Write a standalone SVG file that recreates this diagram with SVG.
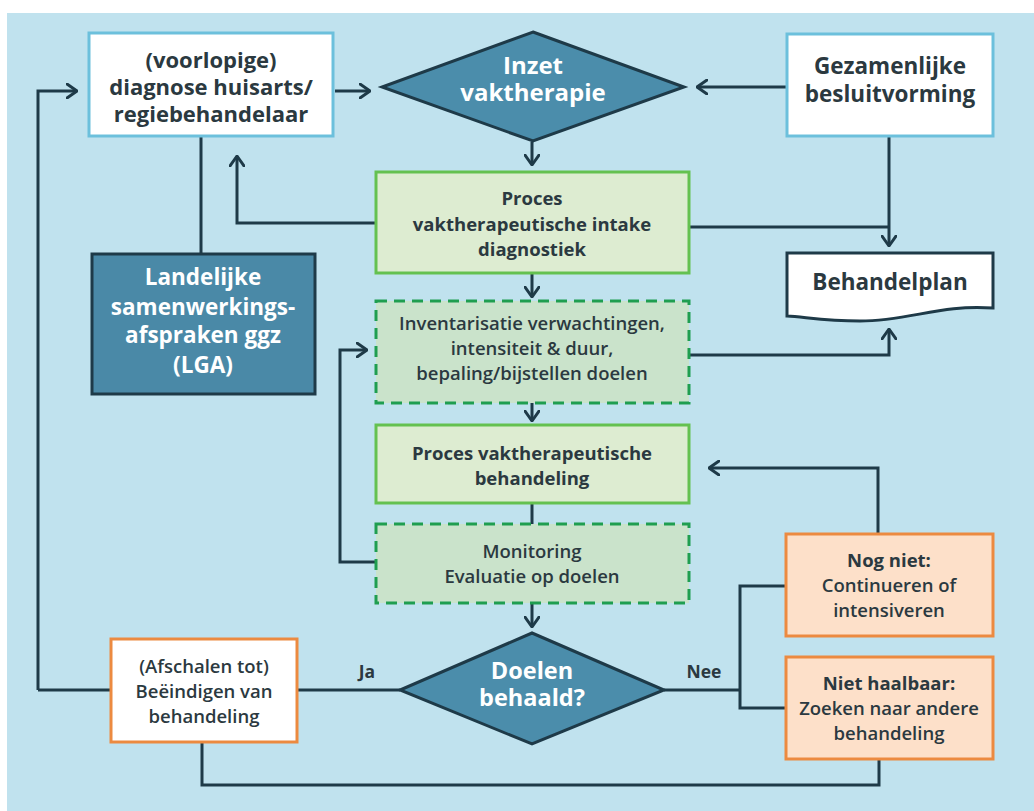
<svg xmlns="http://www.w3.org/2000/svg" width="1034" height="811" viewBox="0 0 1034 811">
<defs>
<marker id="ah" viewBox="0 0 12 16" refX="11" refY="8" markerWidth="12" markerHeight="16" markerUnits="userSpaceOnUse" orient="auto">
<path d="M1,1 L11,8 L1,15" fill="none" stroke="#1e3a48" stroke-width="3" stroke-linecap="round" stroke-linejoin="round"/>
</marker>
<style>
text{font-family:"Open Sans","Liberation Sans",sans-serif;text-anchor:middle;fill:#2b3940}
.b{font-weight:700}
.m{font-weight:600}
.w{fill:#ffffff}
.c{fill:none;stroke:#1e3a48;stroke-width:3}
.blue{fill:#ffffff;stroke:#6cc0dc;stroke-width:3}
.dia{fill:#4b8dab;stroke:#1e3a48;stroke-width:3}
.gr{fill:#ddecd1;stroke:#64c150;stroke-width:3}
.dash{fill:#cae3cb;stroke:#1f9e50;stroke-width:3;stroke-dasharray:11 7}
.or{fill:#ffffff;stroke:#ec8a40;stroke-width:3}
.pe{fill:#fde0c9;stroke:#ec8a40;stroke-width:3}
</style>
</defs>
<rect x="7" y="13" width="1027" height="798" fill="#c0e2ee"/>
<g id="connectors">
<path class="c" d="M38,690 V91 H77" marker-end="url(#ah)"/>
<path class="c" d="M335,91 H370" marker-end="url(#ah)"/>
<path class="c" d="M787,87 H697" marker-end="url(#ah)"/>
<path class="c" d="M532,142 V165" marker-end="url(#ah)"/>
<path class="c" d="M376,223 H237 V156" marker-end="url(#ah)"/>
<path class="c" d="M201,136 V254"/>
<path class="c" d="M689,227 H889"/>
<path class="c" d="M889,136 V246" marker-end="url(#ah)"/>
<path class="c" d="M532,273 V297" marker-end="url(#ah)"/>
<path class="c" d="M689,355 H889 V329" marker-end="url(#ah)"/>
<path class="c" d="M532,403 V421" marker-end="url(#ah)"/>
<path class="c" d="M532,503 V524"/>
<path class="c" d="M376,562 H340 V350 H367" marker-end="url(#ah)"/>
<path class="c" d="M532,603 V627" marker-end="url(#ah)"/>
<path class="c" d="M400,690 H297"/>
<path class="c" d="M111,690 H38"/>
<path class="c" d="M202,742 V785 H879 V759"/>
<path class="c" d="M664,690 H740"/>
<path class="c" d="M786,586 H740 V708 H786"/>
<path class="c" d="M878,534 V468 H709" marker-end="url(#ah)"/>
<text class="b" x="367" y="678" font-size="17.5">Ja</text>
<text class="b" x="704" y="678" font-size="17.5">Nee</text>
</g>
<g id="diagnose">
<rect class="blue" x="89" y="33" width="244" height="103"/>
<text class="b" font-size="22" x="211"><tspan x="211" y="68">(voorlopige)</tspan><tspan x="211" y="95">diagnose huisarts/</tspan><tspan x="211" y="122">regiebehandelaar</tspan></text>
</g>
<g id="inzet">
<polygon class="dia" points="533,32 684,87 533,141 382,87"/>
<text class="b w" font-size="24" x="533"><tspan x="533" y="74">Inzet</tspan><tspan x="533" y="101">vaktherapie</tspan></text>
</g>
<g id="gezamenlijk">
<rect class="blue" x="787" y="34" width="206" height="102"/>
<text class="b" font-size="22.5" x="890"><tspan x="890" y="74">Gezamenlijke</tspan><tspan x="890" y="102">besluitvorming</tspan></text>
</g>
<g id="intake">
<rect class="gr" x="376" y="172" width="313" height="101"/>
<text class="b" font-size="18.5" x="532"><tspan x="532" y="205">Proces</tspan><tspan x="532" y="231">vaktherapeutische intake</tspan><tspan x="532" y="256">diagnostiek</tspan></text>
</g>
<g id="lga">
<rect x="92" y="254" width="223" height="140" fill="#4a89a7" stroke="#1e3a48" stroke-width="3"/>
<text class="b w" font-size="22.5" x="203"><tspan x="203" y="285">Landelijke</tspan><tspan x="203" y="315">samenwerkings-</tspan><tspan x="203" y="343">afspraken ggz</tspan><tspan x="203" y="373">(LGA)</tspan></text>
</g>
<g id="behandelplan">
<path d="M787,253 H993 V308 C940,304 910,321 860,321 C825,321 805,317 787,316 Z" fill="#ffffff" stroke="#1e3a48" stroke-width="3"/>
<text class="b" font-size="22.5" x="890" y="290">Behandelplan</text>
</g>
<g id="inventarisatie">
<rect class="dash" x="376" y="301" width="313" height="102"/>
<text class="m" font-size="18.5" x="532"><tspan x="532" y="330">Inventarisatie verwachtingen,</tspan><tspan x="532" y="355">intensiteit &amp; duur,</tspan><tspan x="532" y="380">bepaling/bijstellen doelen</tspan></text>
</g>
<g id="behandeling">
<rect class="gr" x="376" y="425" width="313" height="78"/>
<text class="b" font-size="18.5" x="532"><tspan x="532" y="460">Proces vaktherapeutische</tspan><tspan x="532" y="485">behandeling</tspan></text>
</g>
<g id="monitoring">
<rect class="dash" x="376" y="524" width="313" height="79"/>
<text class="m" font-size="18.5" x="532"><tspan x="532" y="558">Monitoring</tspan><tspan x="532" y="583">Evaluatie op doelen</tspan></text>
</g>
<g id="doelen">
<polygon class="dia" points="532,633 664,690 532,744 400,690"/>
<text class="b w" font-size="23.5" x="532"><tspan x="532" y="679">Doelen</tspan><tspan x="532" y="706">behaald?</tspan></text>
</g>
<g id="afschalen">
<rect class="or" x="111" y="639" width="186" height="103"/>
<text class="m" font-size="18.5" x="204"><tspan x="204" y="673">(Afschalen tot)</tspan><tspan x="204" y="698">Beëindigen van</tspan><tspan x="204" y="723">behandeling</tspan></text>
</g>
<g id="nognniet">
<rect class="pe" x="786" y="534" width="207" height="102"/>
<text class="m" font-size="18.5" x="889"><tspan class="b" x="889" y="567">Nog niet:</tspan><tspan x="889" y="592">Continueren of</tspan><tspan x="889" y="617">intensiveren</tspan></text>
</g>
<g id="niethaalbaar">
<rect class="pe" x="786" y="657" width="207" height="102"/>
<text class="m" font-size="18.5" x="889"><tspan class="b" x="889" y="690">Niet haalbaar:</tspan><tspan x="889" y="715">Zoeken naar andere</tspan><tspan x="889" y="740">behandeling</tspan></text>
</g>
</svg>
